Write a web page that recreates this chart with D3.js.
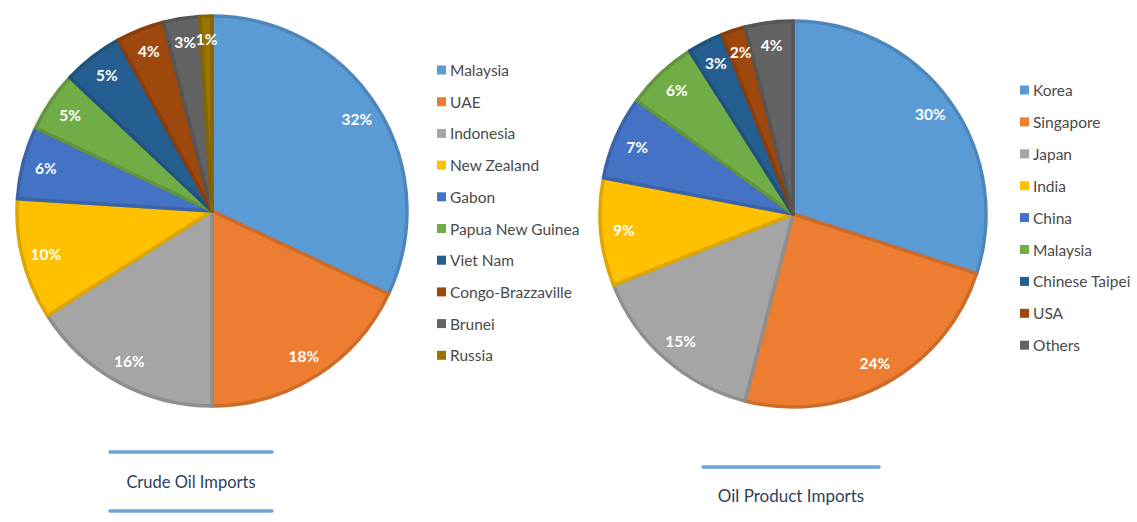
<!DOCTYPE html>
<html>
<head>
<meta charset="utf-8">
<script src="https://cdn.jsdelivr.net/npm/d3@7"></script>
<style>
  html, body { margin: 0; padding: 0; background: #ffffff; }
  svg { display: block; }
</style>
</head>
<body>
<svg id="chart" width="1137" height="522"></svg>
<script>
// Crude oil imports by source
const crudeCategories = ["Malaysia", "UAE", "Indonesia", "New Zealand", "Gabon",
  "Papua New Guinea", "Viet Nam", "Congo-Brazzaville", "Brunei", "Russia"];
const crudeValues = [32, 18, 16, 10, 6, 5, 5, 4, 3, 1];

// Oil product imports by source
const productCategories = ["Korea", "Singapore", "Japan", "India", "China",
  "Malaysia", "Chinese Taipei", "USA", "Others"];
const productValues = [30, 24, 15, 9, 7, 6, 3, 2, 4];

const chartTitles = ["Crude Oil Imports", "Oil Product Imports"];

const palette = ["#5b9bd5", "#ed7d31", "#a5a5a5", "#ffc000", "#4472c4",
  "#70ad47", "#255e91", "#9e480e", "#636363", "#997300"];

const svg = d3.select("#chart");

function drawPie(opts) {
  const { categories, values, cx, cy, r, legendX, legendY, legendStep } = opts;
  const data = categories.map((c, i) => ({ name: c, value: values[i], color: palette[i] }));
  const total = d3.sum(values);

  const pie = d3.pie().value(d => d.value).sort(null);
  const arcs = pie(data);
  const arc = d3.arc().innerRadius(0).outerRadius(r);
  const labelArc = d3.arc().innerRadius(r * 0.88).outerRadius(r * 0.88);

  const g = svg.append("g").attr("transform", `translate(${cx},${cy})`);

  g.selectAll("path.slice")
    .data(arcs)
    .join("path")
    .attr("class", "slice")
    .attr("d", arc)
    .attr("fill", d => d.data.color)
    .attr("stroke", d => d3.color(d.data.color).darker(0.4))
    .attr("stroke-width", 3.5)
    .attr("stroke-linejoin", "round");

  g.selectAll("text.pct")
    .data(arcs)
    .join("text")
    .attr("class", "pct")
    .attr("transform", d => `translate(${labelArc.centroid(d)})`)
    .attr("text-anchor", "middle")
    .attr("dominant-baseline", "central")
    .attr("font-family", "Lato, 'Open Sans', sans-serif")
    .attr("font-weight", "bold")
    .attr("font-size", 15.5)
    .attr("fill", "#ffffff")
    .text(d => Math.round(d.data.value / total * 100) + "%");

  const y = d3.scaleLinear().domain([0, 1]).range([legendY, legendY + legendStep]);
  const lg = svg.append("g");
  const items = lg.selectAll("g.item")
    .data(data)
    .join("g")
    .attr("class", "item")
    .attr("transform", (d, i) => `translate(${legendX},${y(i)})`);
  items.append("rect")
    .attr("x", 0).attr("y", -4.5)
    .attr("width", 9).attr("height", 9)
    .attr("fill", d => d.color);
  items.append("text")
    .attr("x", 13)
    .attr("y", 0)
    .attr("dominant-baseline", "central")
    .attr("font-family", "Lato, 'Open Sans', sans-serif")
    .attr("font-size", 15.5)
    .attr("fill", "#4a4a4a")
    .text(d => d.name);
}

drawPie({
  categories: crudeCategories, values: crudeValues,
  cx: 212, cy: 211, r: 195,
  legendX: 437, legendY: 70, legendStep: 31.7
});

drawPie({
  categories: productCategories, values: productValues,
  cx: 793, cy: 214, r: 193,
  legendX: 1020, legendY: 90, legendStep: 31.9
});

// Caption blocks under each chart
function caption(x1, x2, lineYs, textY, label, size) {
  lineYs.forEach(ly => {
    svg.append("line")
      .attr("x1", x1).attr("x2", x2)
      .attr("y1", ly).attr("y2", ly)
      .attr("stroke", "#6fa3dc")
      .attr("stroke-width", 3.5)
      .attr("stroke-linecap", "round");
  });
  svg.append("text")
    .attr("x", (x1 + x2) / 2)
    .attr("y", textY)
    .attr("text-anchor", "middle")
    .attr("dominant-baseline", "central")
    .attr("font-family", "Lato, 'Open Sans', sans-serif")
    .attr("font-size", size)
    .attr("fill", "#2e3f5c")
    .text(label);
}

caption(110, 272, [452, 511], 482, chartTitles[0], 16.5);
caption(703, 879, [467], 495, chartTitles[1], 17);
</script>
</body>
</html>
